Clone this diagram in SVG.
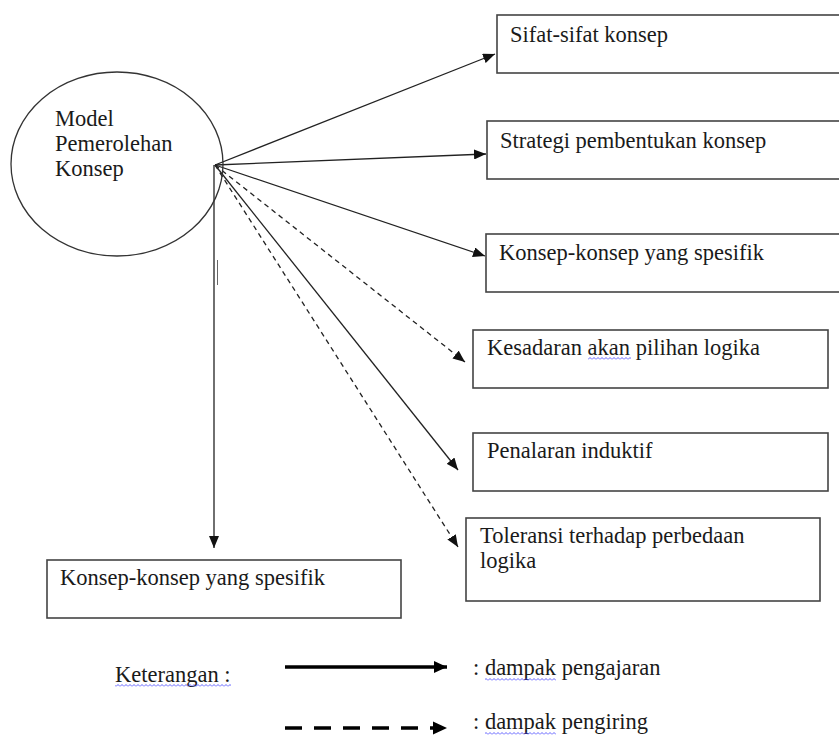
<svg xmlns="http://www.w3.org/2000/svg" width="839" height="735" viewBox="0 0 839 735">
<style>
.box{fill:#fff;stroke:#444;stroke-width:1.6}
.t{font-family:"Liberation Serif","Times New Roman",serif;font-size:22.5px;fill:#1a1a1a}
.c{stroke:#222;stroke-width:1.3;fill:none}
.d{stroke-dasharray:5 4}
.wv{fill:url(#wave)}
</style>
<defs>
<marker id="ah" viewBox="0 0 12 10" refX="12" refY="5" markerWidth="12" markerHeight="10" markerUnits="userSpaceOnUse" orient="auto">
<path d="M0,0 L12,5 L0,10 Z" fill="#111"/>
</marker>
<marker id="ahL" viewBox="0 0 13 12" refX="13" refY="6" markerWidth="13" markerHeight="12" markerUnits="userSpaceOnUse" orient="auto">
<path d="M0,0 L13,6 L0,12 Z" fill="#000"/>
</marker>
<pattern id="wave" width="4" height="3" patternUnits="userSpaceOnUse">
<path d="M0,2.5 L2,0.5 L4,2.5" stroke="#3b3bff" stroke-width="0.8" fill="none"/>
</pattern>
</defs>

<g id="connectors">
<line class="c" x1="215" y1="165" x2="495" y2="54" marker-end="url(#ah)"/>
<line class="c" x1="215" y1="165" x2="486" y2="154" marker-end="url(#ah)"/>
<line class="c" x1="215" y1="165" x2="485" y2="256" marker-end="url(#ah)"/>
<line class="c d" x1="215" y1="165" x2="465" y2="362" marker-end="url(#ah)"/>
<line class="c" x1="215" y1="165" x2="458" y2="470" marker-end="url(#ah)"/>
<line class="c d" x1="215" y1="165" x2="458" y2="547" marker-end="url(#ah)"/>
<line class="c" x1="214" y1="165" x2="214" y2="548" marker-end="url(#ah)"/>
<line x1="217.5" y1="260" x2="217.5" y2="285" stroke="#555" stroke-width="0.9"/>
</g>

<g id="model">
<ellipse cx="117" cy="164" rx="106" ry="92" fill="none" stroke="#333" stroke-width="1.3"/>
<text class="t" x="55" y="126">Model</text>
<text class="t" x="55" y="151">Pemerolehan</text>
<text class="t" x="55" y="176">Konsep</text>
</g>

<g id="sifat">
<rect class="box" x="497" y="15" width="360" height="58"/>
<text class="t" x="510" y="42">Sifat-sifat konsep</text>
</g>

<g id="strategi">
<rect class="box" x="487" y="121" width="370" height="58"/>
<text class="t" x="500" y="148">Strategi pembentukan konsep</text>
</g>

<g id="konsep-kanan">
<rect class="box" x="486" y="234" width="370" height="58"/>
<text class="t" x="499" y="260">Konsep-konsep yang spesifik</text>
</g>

<g id="kesadaran">
<rect class="box" x="473" y="330" width="355" height="58"/>
<text class="t" x="487" y="355">Kesadaran akan pilihan logika</text>
<rect class="wv" x="588" y="357" width="43" height="3"/>
</g>

<g id="penalaran">
<rect class="box" x="473" y="433" width="355" height="58"/>
<text class="t" x="487" y="458">Penalaran induktif</text>
</g>

<g id="toleransi">
<rect class="box" x="466" y="518" width="354" height="83"/>
<text class="t" x="480" y="543">Toleransi terhadap perbedaan</text>
<text class="t" x="480" y="568">logika</text>
</g>

<g id="konsep-bawah">
<rect class="box" x="47" y="560" width="354" height="58"/>
<text class="t" x="60" y="585">Konsep-konsep yang spesifik</text>
</g>

<g id="legend">
<text class="t" x="115" y="682">Keterangan :</text>
<rect class="wv" x="115" y="684" width="116" height="3"/>
<line x1="285" y1="667" x2="447" y2="667" stroke="#000" stroke-width="3.3" marker-end="url(#ahL)"/>
<text class="t" x="473" y="675">: dampak pengajaran</text>
<rect class="wv" x="485" y="678" width="71" height="3"/>
<line x1="285" y1="728" x2="433" y2="728" stroke="#000" stroke-width="3.3" stroke-dasharray="17 12"/>
<path d="M433,721.5 L447,728 L433,734.5 Z" fill="#000"/>
<text class="t" x="473" y="729">: dampak pengiring</text>
<rect class="wv" x="485" y="732" width="71" height="3"/>
</g>
</svg>
